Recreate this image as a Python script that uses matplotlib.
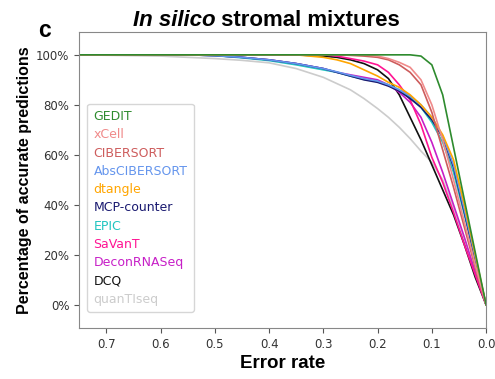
import numpy as np
import matplotlib
matplotlib.use('Agg')
import matplotlib.pyplot as plt
from matplotlib.ticker import FuncFormatter

# error-rate thresholds (shared by all methods)
err = [0.75, 0.6, 0.55, 0.5, 0.45, 0.4, 0.35, 0.3, 0.275, 0.25, 0.225, 0.2,
       0.18, 0.16, 0.14, 0.12, 0.1, 0.08, 0.06, 0.04, 0.02, 0.0]

gedit     = [100, 100, 100, 100, 100, 100, 100, 100, 100, 100, 100, 100,
             100, 100, 100, 99.5, 96, 84, 63, 42, 21, 0]
xcell     = [100, 100, 100, 100, 100, 100, 100, 100, 100, 100, 100, 99.5,
             98.5, 97, 95, 90, 80, 66, 50, 33, 16, 0]
cibersort = [100, 100, 100, 100, 100, 100, 100, 100, 100, 99.8, 99.5, 99,
             98, 96, 93, 88, 77, 62, 47, 31, 15, 0]
abscib    = [100, 100, 100, 99.7, 99, 98, 96.5, 94.5, 93.2, 91.8, 90.5, 89.5,
             88, 86, 83.5, 80, 75, 67.5, 56, 38, 19, 0]
dtangle   = [100, 100, 100, 100, 100, 100, 100, 99, 98, 96.5, 94, 91.5,
             89, 87, 84, 80, 75, 68, 58, 40, 20, 0]
mcp       = [100, 100, 100, 99.7, 99, 98, 96.5, 94.5, 93, 91.5, 90, 89,
             87.5, 85.5, 82.5, 79, 74, 67, 55, 37, 18, 0]
epic      = [100, 100, 100, 99.7, 98.8, 97.7, 96, 94, 93, 91.5, 90.2, 89.3,
             88, 86, 83, 79, 73, 65, 53, 36, 18, 0]
savant    = [100, 100, 100, 100, 100, 100, 100, 100, 99.5, 98.5, 97.5, 96,
             93, 88, 82, 72, 59, 49, 37, 24, 12, 0]
deconrna  = [100, 100, 100, 99.7, 99, 98, 96.5, 94.5, 93, 92, 91, 90,
             88, 85, 81, 75, 65, 53, 40, 27, 13, 0]
dcq       = [100, 100, 100, 100, 100, 100, 100, 99.5, 99, 98, 96.5, 94,
             90.5, 84, 75, 66, 56, 46, 36, 24, 11, 0]
quantiseq = [100, 99.5, 99, 98.5, 97.8, 96.8, 94.5, 91, 88.5, 86, 82.5, 78.5,
             75, 71, 66.5, 61.5, 57, 50, 39, 26, 13, 0]

names = ['GEDIT', 'xCell', 'CIBERSORT', 'AbsCIBERSORT', 'dtangle', 'MCP-counter',
         'EPIC', 'SaVanT', 'DeconRNASeq', 'DCQ', 'quanTIseq']
series = [gedit, xcell, cibersort, abscib, dtangle, mcp, epic, savant, deconrna, dcq, quantiseq]
colors = ['#2e8b2e', '#f08a8a', '#cd5c5c', '#6495ed', '#ffa500', '#191970',
          '#20c5c0', '#ff1493', '#c71fc7', '#111111', '#cccccc']

fig = plt.figure(figsize=(4.95, 3.79), dpi=100)
ax = fig.add_axes([0.16, 0.135, 0.822, 0.781])

# draw background methods first so the top ones sit above
order = [10, 9, 8, 7, 6, 5, 3, 4, 2, 1, 0]
for i in order:
    ax.plot(err, series[i], color=colors[i], lw=1.2, label=names[i])

ax.set_xlim(0.75, 0.0)
ax.set_ylim(-9.2, 109.2)
ax.set_xticks([0.7, 0.6, 0.5, 0.4, 0.3, 0.2, 0.1, 0.0])
ax.set_yticks([0, 20, 40, 60, 80, 100])
ax.yaxis.set_major_formatter(FuncFormatter(lambda v, p: '%d%%' % v))
ax.tick_params(labelsize=8.5, labelcolor='#333333', color='#555555', length=3.5)
for s in ax.spines.values():
    s.set_color('#888888')

ax.set_xlabel('Error rate', fontsize=13.5, fontweight='bold', family='Liberation Sans', labelpad=3)
ax.set_ylabel('Percentage of accurate predictions', fontsize=11.5, fontweight='bold',
              family='Liberation Sans', labelpad=3)

# legend in original order, coloured text, no handles
handles, labels = ax.get_legend_handles_labels()
lookup = dict(zip(labels, handles))
leg = ax.legend([lookup[n] for n in names], names, loc='lower left',
                bbox_to_anchor=(0.02, 0.054), borderaxespad=0, fontsize=9,
                handlelength=0, handletextpad=0, labelspacing=0.42, borderpad=0.5,
                frameon=True, edgecolor='#cccccc', fancybox=True)
for txt, c in zip(leg.get_texts(), colors):
    txt.set_color(c)
for h in leg.legend_handles:
    h.set_visible(False)

t1 = fig.text(0.268, 0.931, 'In silico', fontsize=16, fontweight='bold', style='italic',
              family='Liberation Sans', va='baseline')
fig.canvas.draw()
ax.annotate(' stromal mixtures', xy=(1, 0), xycoords=t1, va='bottom', ha='left',
            fontsize=16, fontweight='bold', family='Liberation Sans')
fig.text(0.077, 0.902, 'c', fontsize=16.5, fontweight='bold', family='Liberation Sans')

fig.savefig('out.png', dpi=100)
